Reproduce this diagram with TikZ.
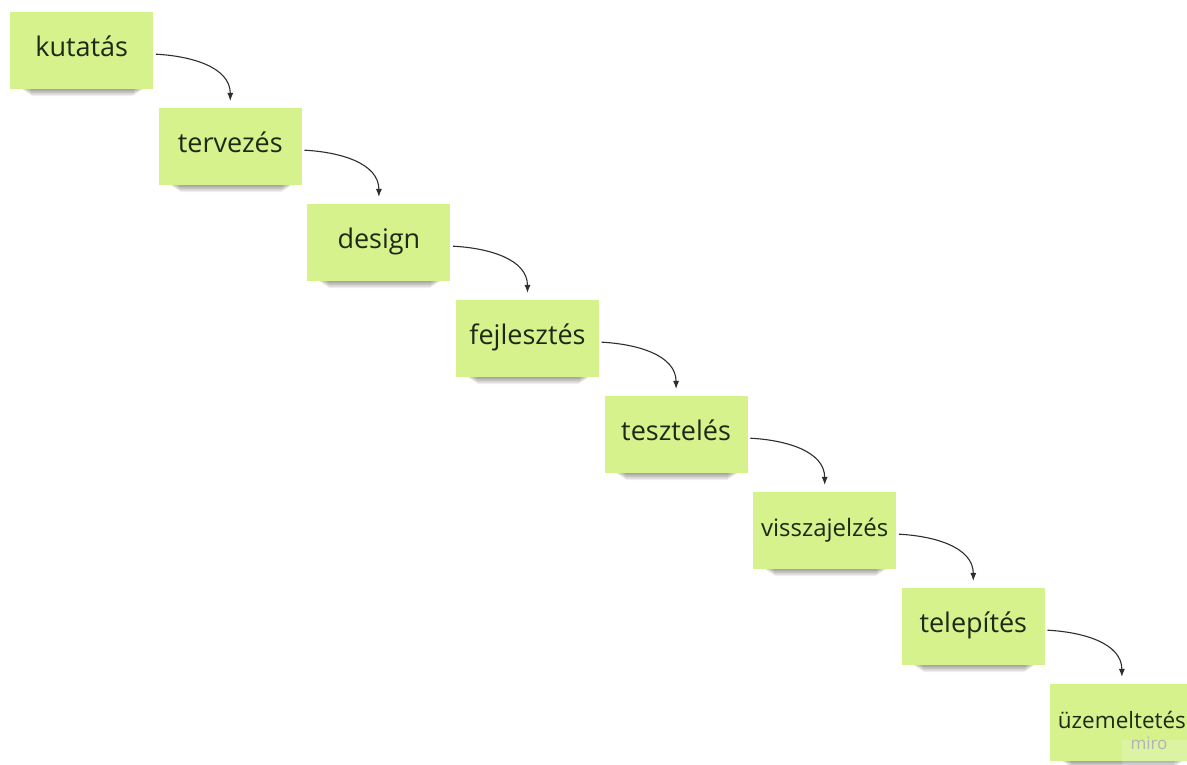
\documentclass[tikz,border=0pt]{standalone}
\usepackage{fontspec}
\setmainfont{Open Sans}
\usetikzlibrary{arrows.meta}
\definecolor{sticky}{HTML}{D5F28D}
\definecolor{stickytext}{HTML}{1E2914}
\definecolor{conncol}{HTML}{2E2E2E}
\tikzset{
  notebox/.style={rectangle, fill=sticky, minimum width=143pt, minimum height=77pt,
    inner sep=0pt, text=stickytext, text height=18pt, text depth=7pt, anchor=north west},
  conn/.style={draw=conncol, line width=1.1pt, -{Latex[length=8pt,width=6pt]}},
}
\begin{document}
\begin{tikzpicture}[x=1pt,y=1pt]
\useasboundingbox (0,0) rectangle (1187,765);
\clip (0,0) rectangle (1187,765);
\fill[white] (0,0) rectangle (1187,765);
\foreach \i/\t/\fs in {1/kutatás/27, 2/tervezés/27, 3/design/27, 4/fejlesztés/27,
                        5/tesztelés/27, 6/visszajelzés/24, 7/telepítés/27, 8/üzemeltetés/22.5} {
  \pgfmathsetmacro\bx{10+148.6*(\i-1)}
  \pgfmathsetmacro\by{765-12-96*(\i-1)}
  % soft shadow under the note
  \foreach \k in {1,...,8} {
    \fill[black, opacity=0.05, rounded corners=2pt]
      (\bx+10+1.4*\k, \by-77+6) rectangle (\bx+143-8-1.4*\k, \by-77-0.9*\k);
  }
  \node[notebox, font=\fontsize{\fs}{\fs}\selectfont] (b\i) at (\bx,\by) {\t};
}
\foreach \i in {1,...,7} {
  \pgfmathtruncatemacro\j{\i+1}
  \draw[conn] ([xshift=2.5pt,yshift=-3.5pt]b\i.east) to[out=-3,in=90] ([yshift=7pt]b\j.north);
}
\fill[white, opacity=0.18] (1122,0) rectangle (1187,25);
\node[text=black!30, font=\fontsize{17}{17}\selectfont, anchor=base, inner sep=0pt] (wm) at (1149,15) {miro};
\end{tikzpicture}
\end{document}
